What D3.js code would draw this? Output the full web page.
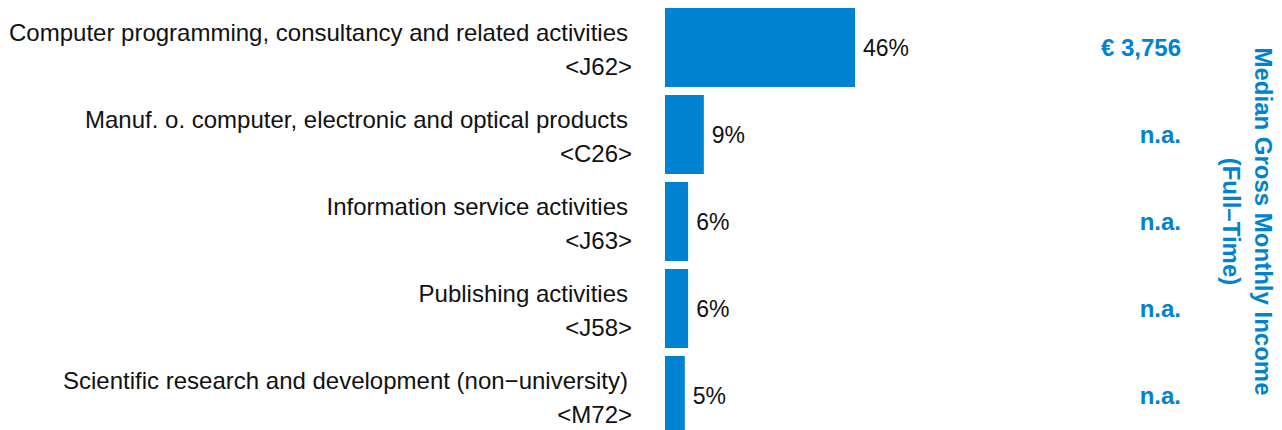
<!DOCTYPE html>
<html>
<head>
<meta charset="utf-8">
<script src="https://cdn.jsdelivr.net/npm/d3@7"></script>
<style>
  html, body { margin: 0; padding: 0; background: #fff; }
  svg { display: block; font-family: "Liberation Sans", Arial, sans-serif; }
</style>
</head>
<body>
<svg id="chart" width="1282" height="430"></svg>
<script>
// ── Data ──────────────────────────────────────────────────────────────
const sectors = [
  'Computer programming, consultancy and related activities',
  'Manuf. o. computer, electronic and optical products',
  'Information service activities',
  'Publishing activities',
  'Scientific research and development (non\u2212university)'
];
const codes   = ['<J62>', '<C26>', '<J63>', '<J58>', '<M72>'];
const shares  = [46, 9.4, 5.6, 5.6, 4.8];          // % of graduates
const shareLabels = ['46%', '9%', '6%', '6%', '5%'];
const incomeLabels = ['\u20ac 3,756', 'n.a.', 'n.a.', 'n.a.', 'n.a.'];
const incomeTitle = ['Median Gross Monthly Income', '(Full\u2013Time)'];

const BLUE = '#0082d2';

const svg = d3.select('#chart');

// ── Scales ────────────────────────────────────────────────────────────
const y = d3.scaleBand()
  .domain(sectors)
  .range([4, 439])
  .paddingInner(0.092)
  .paddingOuter(0.046);

const x = d3.scaleLinear()
  .domain([0, 46])
  .range([665, 855]);

const rows = sectors.map((s, i) => ({
  sector: s, code: codes[i], share: shares[i],
  label: shareLabels[i], income: incomeLabels[i]
}));

const mid = d => y(d.sector) + y.bandwidth() / 2;

// ── Bars ──────────────────────────────────────────────────────────────
svg.append('g')
  .selectAll('rect')
  .data(rows)
  .join('rect')
    .attr('x', x(0))
    .attr('y', d => y(d.sector))
    .attr('width', d => x(d.share) - x(0))
    .attr('height', y.bandwidth())
    .attr('fill', BLUE);

// share labels
svg.append('g')
  .selectAll('text')
  .data(rows)
  .join('text')
    .attr('x', d => x(d.share) + 8)
    .attr('y', mid)
    .attr('dy', '0.35em')
    .attr('font-size', 23)
    .attr('fill', '#111')
    .text(d => d.label);

// ── Category labels (two lines, right aligned) ────────────────────────
const lab = svg.append('g')
  .selectAll('g')
  .data(rows)
  .join('g')
    .attr('transform', d => `translate(632, ${mid(d)})`);

lab.append('text')
  .attr('text-anchor', 'end')
  .attr('x', -4)
  .attr('y', -15)
  .attr('dy', '0.35em')
  .attr('font-size', 24)
  .attr('fill', '#111')
  .text(d => d.sector);

lab.append('text')
  .attr('text-anchor', 'end')
  .attr('y', 19)
  .attr('dy', '0.35em')
  .attr('font-size', 24)
  .attr('fill', '#111')
  .text(d => d.code);

// ── Income column ─────────────────────────────────────────────────────
svg.append('g')
  .selectAll('text')
  .data(rows)
  .join('text')
    .attr('text-anchor', 'end')
    .attr('x', 1181)
    .attr('y', mid)
    .attr('dy', '0.35em')
    .attr('font-size', 24)
    .attr('font-weight', 'bold')
    .attr('fill', BLUE)
    .text(d => d.income);

// rotated column title
const title = svg.append('g')
  .attr('transform', `translate(1248, ${(y.range()[0] + y.range()[1]) / 2}) rotate(90)`);

title.selectAll('text')
  .data(incomeTitle)
  .join('text')
    .attr('text-anchor', 'middle')
    .attr('y', (d, i) => i === 0 ? -15 : 17)
    .attr('dy', '0.35em')
    .attr('font-size', 24)
    .attr('font-weight', 'bold')
    .attr('fill', BLUE)
    .text(d => d);
</script>
</body>
</html>
